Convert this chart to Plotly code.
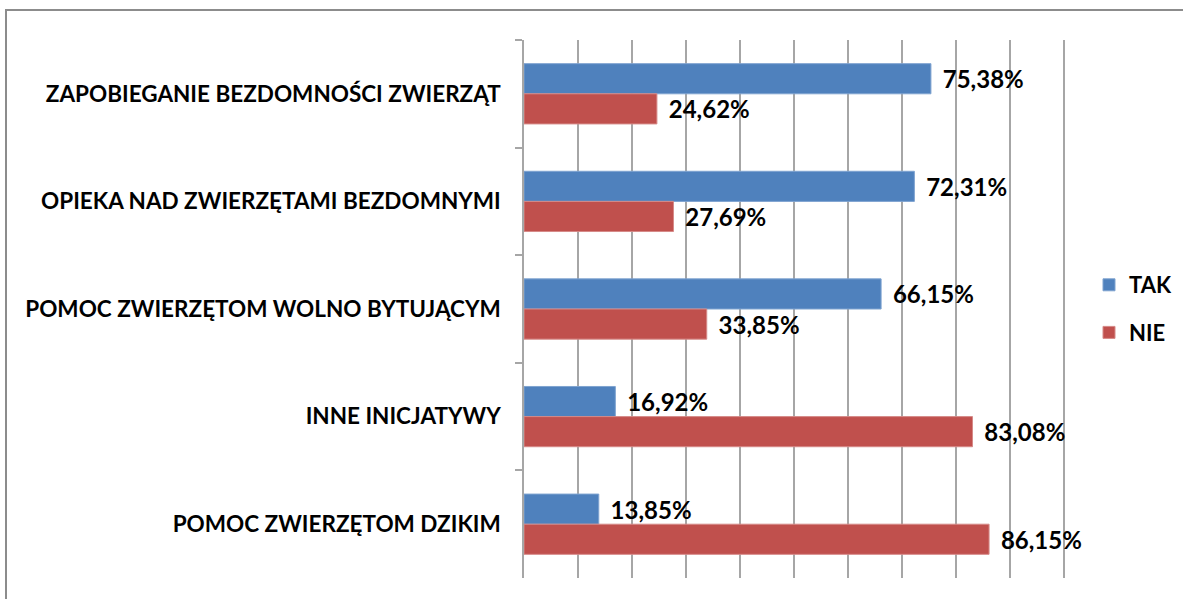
import plotly.graph_objects as go

categories = [
    "ZAPOBIEGANIE BEZDOMNOŚCI ZWIERZĄT",
    "OPIEKA NAD ZWIERZĘTAMI BEZDOMNYMI",
    "POMOC ZWIERZĘTOM WOLNO BYTUJĄCYM",
    "INNE INICJATYWY",
    "POMOC ZWIERZĘTOM DZIKIM",
]
tak_values = [75.38, 72.31, 66.15, 16.92, 13.85]
nie_values = [24.62, 27.69, 33.85, 83.08, 86.15]
tak_labels = ["75,38%", "72,31%", "66,15%", "16,92%", "13,85%"]
nie_labels = ["24,62%", "27,69%", "33,85%", "83,08%", "86,15%"]

FONT = "Lato"
W, H = 1183, 599
L, R, T, B = 524, 117, 40, 21
X_MAX = 100.4

fig = go.Figure()
fig.add_trace(go.Bar(
    name="TAK", y=categories, x=tak_values, orientation="h",
    legendgroup="tak",
    marker=dict(color="#4F81BD", line=dict(color="#7FA3D0", width=1)),
    text=["\u00a0\u2009" + t for t in tak_labels], textposition="outside",
    constraintext="none",
    textfont=dict(family=FONT, size=24, color="#000000", weight="bold"),
    cliponaxis=False,
))
fig.add_trace(go.Bar(
    name="NIE", y=categories, x=nie_values, orientation="h",
    legendgroup="nie",
    marker=dict(color="#C0504D", line=dict(color="#D68A88", width=1)),
    text=["\u00a0\u2009" + t for t in nie_labels], textposition="outside",
    constraintext="none",
    textfont=dict(family=FONT, size=24, color="#000000", weight="bold"),
    cliponaxis=False,
))

pw = W - L - R
ph = H - T - B
fig.add_shape(
    type="rect", xref="paper", yref="paper",
    x0=(6 - L) / pw, x1=(W + 20 - L) / pw,
    y0=-(30) / ph, y1=(H - B - 10) / ph,
    line=dict(color="#8C8C8C", width=2), fillcolor="rgba(0,0,0,0)", layer="below",
)

fig.update_layout(
    width=W, height=H,
    margin=dict(l=L, r=R, t=T, b=B, pad=0, autoexpand=False),
    paper_bgcolor="white", plot_bgcolor="white",
    barmode="group", bargap=0.44, bargroupgap=0,
    showlegend=True,
    legend=dict(
        x=(1089 - L) / pw, y=0.5, xanchor="left", yanchor="middle",
        font=dict(family=FONT, size=22, color="#000000", weight="bold"),
        tracegroupgap=16, itemwidth=30, bgcolor="rgba(0,0,0,0)",
        traceorder="grouped",
    ),
    font=dict(family=FONT, color="#000000"),
    xaxis=dict(
        range=[0, X_MAX], tick0=0, dtick=10, showticklabels=False, showgrid=True,
        gridcolor="#A6A6A6", gridwidth=1.5, zeroline=False, showline=False,
        ticks="", automargin=False,
    ),
    yaxis=dict(
        autorange="reversed", showline=True, linecolor="#A6A6A6", linewidth=1.5,
        ticks="outside", tickson="boundaries", ticklen=7, tickcolor="#A6A6A6",
        tickwidth=1.5, showgrid=False, automargin=False,
        tickfont=dict(family=FONT, size=22.5, color="#000000", weight="bold"),
        ticklabelstandoff=17,
    ),
)

fig.write_html("out.html", config={"displayModeBar": False},
               post_script="document.body.style.margin='0';")
